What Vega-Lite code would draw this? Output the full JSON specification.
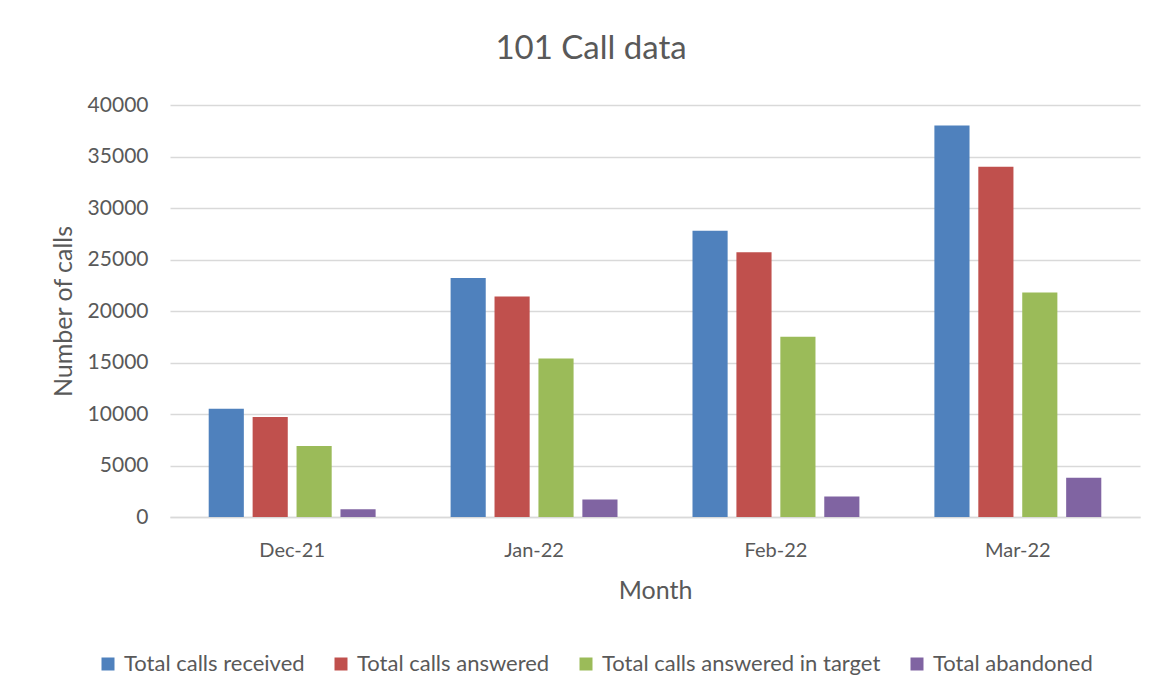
{
  "$schema": "https://vega.github.io/schema/vega-lite/v6.json",
  "width": 970,
  "height": 412,
  "autosize": {"type": "none"},
  "padding": {"left": 170, "top": 105, "right": 19, "bottom": 171},
  "background": "#ffffff",
  "title": {
    "text": "101 Call data",
    "font": "Lato",
    "fontSize": 33,
    "fontWeight": "normal",
    "color": "#595959",
    "anchor": "middle",
    "offset": 28,
    "dx": -64
  },
  "data": {
    "values": [
      {"month": "Dec-21", "series": "Total calls received", "calls": 10500},
      {"month": "Dec-21", "series": "Total calls answered", "calls": 9700},
      {"month": "Dec-21", "series": "Total calls answered in target", "calls": 6900},
      {"month": "Dec-21", "series": "Total abandoned", "calls": 750},
      {"month": "Jan-22", "series": "Total calls received", "calls": 23200},
      {"month": "Jan-22", "series": "Total calls answered", "calls": 21400},
      {"month": "Jan-22", "series": "Total calls answered in target", "calls": 15400},
      {"month": "Jan-22", "series": "Total abandoned", "calls": 1700},
      {"month": "Feb-22", "series": "Total calls received", "calls": 27800},
      {"month": "Feb-22", "series": "Total calls answered", "calls": 25700},
      {"month": "Feb-22", "series": "Total calls answered in target", "calls": 17500},
      {"month": "Feb-22", "series": "Total abandoned", "calls": 2000},
      {"month": "Mar-22", "series": "Total calls received", "calls": 38000},
      {"month": "Mar-22", "series": "Total calls answered", "calls": 34000},
      {"month": "Mar-22", "series": "Total calls answered in target", "calls": 21800},
      {"month": "Mar-22", "series": "Total abandoned", "calls": 3800}
    ]
  },
  "mark": {"type": "bar"},
  "encoding": {
    "x": {
      "field": "month",
      "type": "nominal",
      "sort": ["Dec-21", "Jan-22", "Feb-22", "Mar-22"],
      "scale": {"paddingInner": 0.31, "paddingOuter": 0.16},
      "axis": {
        "title": "Month",
        "titleFont": "Lato",
        "titleFontSize": 25,
        "titleFontWeight": "normal",
        "titleColor": "#595959",
        "titlePadding": 18,
        "labelAngle": 0,
        "labelFont": "Lato",
        "labelFontSize": 20,
        "labelColor": "#595959",
        "labelPadding": 23,
        "ticks": false,
        "domainColor": "#d9d9d9",
        "domainWidth": 1.5
      }
    },
    "xOffset": {
      "field": "series",
      "sort": ["Total calls received", "Total calls answered", "Total calls answered in target", "Total abandoned"],
      "scale": {"paddingInner": 0.2, "paddingOuter": 0}
    },
    "y": {
      "field": "calls",
      "type": "quantitative",
      "scale": {"domain": [0, 40000], "nice": false},
      "axis": {
        "title": "Number of calls",
        "titleFont": "Lato",
        "titleFontSize": 25,
        "titleFontWeight": "normal",
        "titleColor": "#595959",
        "titlePadding": 11,
        "values": [0, 5000, 10000, 15000, 20000, 25000, 30000, 35000, 40000],
        "format": "d",
        "labelFont": "Lato",
        "labelFontSize": 21,
        "labelColor": "#595959",
        "labelPadding": 22,
        "ticks": false,
        "domain": false,
        "gridColor": "#d9d9d9",
        "gridWidth": 1.5
      }
    },
    "color": {
      "field": "series",
      "type": "nominal",
      "sort": ["Total calls received", "Total calls answered", "Total calls answered in target", "Total abandoned"],
      "scale": {
        "domain": ["Total calls received", "Total calls answered", "Total calls answered in target", "Total abandoned"],
        "range": ["#4F81BD", "#C0504D", "#9BBB59", "#8064A2"]
      },
      "legend": {
        "title": null,
        "orient": "none",
        "direction": "horizontal",
        "legendX": -73,
        "legendY": 548,
        "symbolType": "square",
        "symbolSize": 169,
        "symbolStrokeWidth": 0,
        "labelFont": "Lato",
        "labelFontSize": 22,
        "labelColor": "#595959",
        "labelOffset": 5,
        "columnPadding": 25,
        "labelLimit": 400
      }
    }
  },
  "config": {"view": {"stroke": null}}
}
